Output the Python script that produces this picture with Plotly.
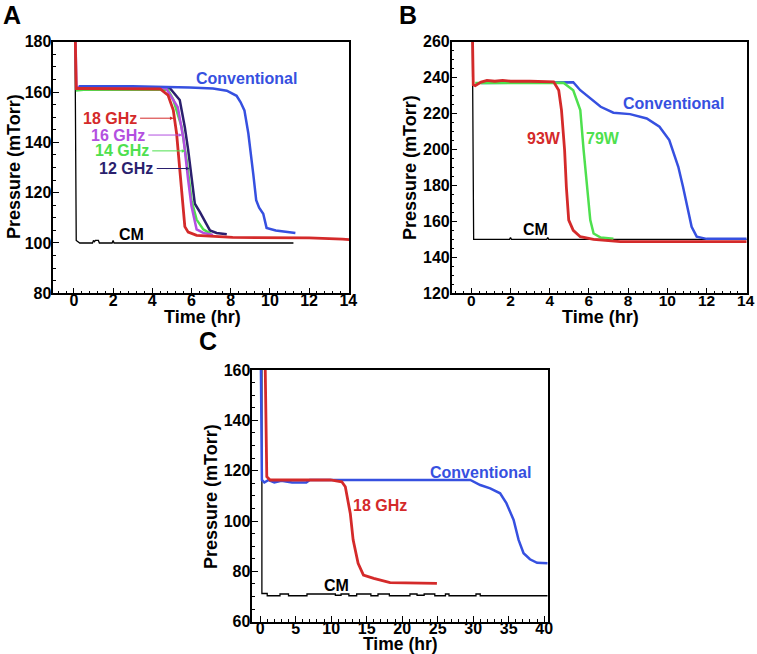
import plotly.graph_objects as go

# ---------------- Panel A data ----------------
A_cm_t = [0.05, 0.12, 0.3, 0.95, 1.0, 1.05, 1.1, 1.25, 1.3, 1.95, 2.0, 2.05, 11.2]
A_cm_p = [190, 101, 100, 100, 101, 100.5, 101, 101, 100, 100, 101, 100, 100]

A_conv_t = [0.25, 3.0, 5.9, 7.1, 7.8, 8.3, 8.5, 8.7, 8.9, 9.05, 9.15, 9.3, 9.45, 9.66, 9.83, 10.3, 10.85, 11.3]
A_conv_p = [162.3, 162.3, 161.8, 161.4, 160.5, 158.5, 156, 152.7, 143.5, 135, 127.5, 117, 114, 111.6, 106, 105, 104.5, 104]

A_18_t = [0.05, 0.12, 0.3, 2.0, 4.4, 4.8, 5.07, 5.24, 5.4, 5.54, 5.66, 5.83, 6.26, 8.1, 12.0, 13.7, 14.05]
A_18_p = [190, 161.4, 161.4, 161.4, 161.2, 158.8, 152.8, 143.5, 130, 117, 106.5, 104.3, 103, 102.2, 102, 101.5, 101.3]

A_16_t = [0.06, 0.13, 0.3, 4.7, 5.3, 5.6, 5.83, 6.0, 6.26, 6.6, 7.1]
A_16_p = [190, 162, 162, 161.5, 154, 141, 125, 114.6, 105.4, 104, 103.2]

A_14_t = [0.1, 0.5, 4.8, 5.07, 5.5, 5.75, 6.0, 6.26, 6.6, 6.9, 7.0]
A_14_p = [160.6, 160.9, 160.9, 157, 146, 133, 117, 109.3, 105.4, 104, 103.5]

A_12_t = [0.3, 4.9, 5.4, 5.66, 5.83, 6.0, 6.17, 6.43, 6.77, 6.94, 7.28, 7.8]
A_12_p = [161.6, 161.5, 156.8, 146, 137, 125, 115.6, 112.3, 107.6, 105, 104, 103.5]

# ---------------- Panel B data ----------------
B_cm_t = [0.05, 0.12, 1.95, 2.0, 2.05, 3.85, 3.9, 3.95, 14.05]
B_cm_p = [270, 150, 150, 151, 150, 150, 151, 150, 150]

B_93_t = [0.05, 0.1, 0.2, 0.5, 0.8, 1.2, 1.6, 2.0, 3.0, 4.2, 4.46, 4.6, 4.76, 4.85, 4.97, 5.2, 5.56, 6.24, 7.6, 14.05]
B_93_p = [270, 236, 235.5, 237.5, 238.5, 238, 238.5, 238, 238, 237.7, 233, 222, 199.7, 179, 160.7, 155, 151.5, 150, 148.7, 148.7]

B_79_t = [0.2, 4.7, 5.2, 5.56, 5.73, 5.9, 6.07, 6.24, 6.6, 7.25]
B_79_p = [237, 237.2, 233, 222, 199.7, 179, 160.7, 153.3, 151, 150.3]

B_conv_t = [0.5, 4.9, 5.2, 5.56, 6.07, 6.6, 7.25, 8.1, 8.95, 9.6, 10.1, 10.56, 10.8, 11.0, 11.24, 11.5, 12.0, 14.05]
B_conv_p = [237, 237.7, 237.5, 233, 228.5, 223.8, 220.5, 219.7, 217.3, 212.7, 205.3, 190.4, 179.3, 168.2, 157, 151.5, 150.3, 150.3]

# ---------------- Panel C data ----------------
C_cm_t = [0.1, 0.25, 1.0, 2.8, 4.0, 6.6, 10.6, 11.4, 12.5, 13.6, 15.6, 16.6, 18.2, 21.1, 22.1, 23.1, 24.6, 26.1, 26.6, 30.4, 31.0, 40.5]
C_cm_p = [165, 71.2, 70.3, 71, 70.3, 71, 70.5, 71, 70.3, 71, 70.3, 71, 70.3, 71, 70.5, 71, 70.3, 71, 70.3, 71, 70.3, 70.3]

C_conv_t = [0.1, 0.25, 0.6, 1.2, 2.0, 3.0, 4.5, 6.5, 7.0, 12, 20, 29.6, 31, 32.4, 33.8, 34.7, 35.7, 36.4, 37.1, 38, 39, 40.5]
C_conv_p = [165, 116.3, 115.3, 116.3, 115.3, 116, 115.3, 115.3, 116.3, 116.3, 116.3, 116.3, 114.3, 113, 111, 107, 100.4, 92.5, 87.2, 84.8, 83.4, 83.2]

C_18_t = [0.7, 0.94, 1.4, 5, 9.9, 11.5, 12.0, 12.7, 13.1, 13.8, 14.55, 16, 18.3, 24.9]
C_18_p = [165, 117.6, 116.3, 116.3, 116.3, 115.6, 113.6, 103, 92.5, 83.2, 78.5, 77.2, 75.5, 75.2]

# ---------------- styles ----------------
RED = "#d42a2a"
BLUE = "#3650e0"
PURPLE = "#b34fe0"
GREEN = "#4ee04e"
NAVY = "#2b1f6e"
BLACK = "#000000"
FONT = "Liberation Sans, Arial, sans-serif"

FW, FH = 757.0, 654.0
def fx(px):
    return px / FW
def fy(py):
    return 1 - py / FH

fig = go.Figure()

def add(t, p, color, width, xa, ya, shape="linear"):
    fig.add_trace(go.Scatter(x=t, y=p, mode="lines", xaxis=xa, yaxis=ya,
                             line=dict(color=color, width=width, shape=shape),
                             showlegend=False, hoverinfo="skip"))

# Panel A
add(A_cm_t, A_cm_p, BLACK, 1.3, "x", "y")
add(A_12_t, A_12_p, NAVY, 2.5, "x", "y")
add(A_14_t, A_14_p, GREEN, 2.5, "x", "y")
add(A_16_t, A_16_p, PURPLE, 2.5, "x", "y")
add(A_conv_t, A_conv_p, BLUE, 2.5, "x", "y")
add(A_18_t, A_18_p, RED, 2.8, "x", "y")
# Panel B
add(B_cm_t, B_cm_p, BLACK, 1.3, "x2", "y2")
add(B_conv_t, B_conv_p, BLUE, 2.5, "x2", "y2")
add(B_79_t, B_79_p, GREEN, 2.5, "x2", "y2")
add(B_93_t, B_93_p, RED, 2.8, "x2", "y2")
# Panel C
add(C_cm_t, C_cm_p, BLACK, 1.3, "x3", "y3", shape="hv")
add(C_conv_t, C_conv_p, BLUE, 2.5, "x3", "y3")
add(C_18_t, C_18_p, RED, 2.8, "x3", "y3")

def axis(domain, rng, dtick, minor, anchor, standoff, size=16):
    return dict(domain=domain, range=rng, anchor=anchor, dtick=dtick, tick0=0,
                showgrid=False, zeroline=False, showline=True, linecolor="black",
                linewidth=1.5, mirror=True, ticks="inside", ticklen=6, tickwidth=1,
                tickcolor="black", ticklabelstandoff=standoff,
                minor=dict(dtick=minor, tick0=0, ticks="inside", ticklen=3, tickcolor="black", tickwidth=1),
                tickfont=dict(family=FONT, size=size, color="black", weight="bold"))

# panel boxes in window pixels
AX = [53.3, 349.3]
BX = [451.7, 746.7]
ABY = [293.3, 41.7]
CX = [252.3, 547.7]
CY = [621.7, 370.0]

fig.update_layout(
    width=int(FW), height=int(FH),
    margin=dict(l=0, r=0, t=0, b=0, autoexpand=False),
    paper_bgcolor="white", plot_bgcolor="white",
    font=dict(family=FONT, color="black", weight="bold"),
    xaxis=axis([fx(AX[0]), fx(AX[1])], [-1.05, 14.05], 2, 0.4, "y", -8),
    yaxis=axis([fy(ABY[0]), fy(ABY[1])], [80, 180], 20, 5, "x", -3),
    xaxis2=axis([fx(BX[0]), fx(BX[1])], [-1.0, 14.05], 2, 0.4, "y2", -8, size=15.5),
    yaxis2=axis([fy(ABY[0]), fy(ABY[1])], [120, 260], 20, 5, "x2", -3),
    xaxis3=axis([fx(CX[0]), fx(CX[1])], [-1.1, 40.5], 5, 1, "y3", -9),
    yaxis3=axis([fy(CY[0]), fy(CY[1])], [60, 160], 20, 5, "x3", -3),
)

ann = []
def ptxt(text, px, py, size, color="black", angle=0):
    ann.append(dict(text=text, x=fx(px), y=fy(py), xref="paper", yref="paper",
                    showarrow=False, textangle=angle, xanchor="center", yanchor="middle",
                    font=dict(family=FONT, size=size, color=color, weight="bold")))

# panel letters
ptxt("A", 12, 15, 25)
ptxt("B", 408, 15, 25)
ptxt("C", 208, 341, 25)
# axis titles
ptxt("Pressure (mTorr)", 14, 167, 18, angle=-90)
ptxt("Pressure (mTorr)", 410, 167, 18, angle=-90)
ptxt("Pressure (mTorr)", 211, 496, 18, angle=-90)
ptxt("Time (hr)", 202, 317, 18)
ptxt("Time (hr)", 600, 317, 18)
ptxt("Time (hr)", 400, 644, 17.5)

def dtxt(text, x, y, xa, ya, color, xanchor="center", size=16):
    ann.append(dict(text=text, x=x, y=y, xref=xa, yref=ya, showarrow=False,
                    xanchor=xanchor, yanchor="middle",
                    font=dict(family=FONT, size=size, color=color, weight="bold")))

def arrow(x0, y0, x1, y1, xa, ya, color):
    ann.append(dict(text="", x=x1, y=y1, ax=x0, ay=y0, xref=xa, yref=ya,
                    axref=xa, ayref=ya, showarrow=True, arrowhead=2, arrowsize=0.7,
                    arrowwidth=1, arrowcolor=color))

# Panel A labels
dtxt("Conventional", 8.8, 165.2, "x", "y", BLUE)
dtxt("CM", 2.95, 103.2, "x", "y", BLACK)
dtxt("18 GHz", 3.3, 149.6, "x", "y", RED, xanchor="right")
dtxt("16 GHz", 3.72, 142.9, "x", "y", PURPLE, xanchor="right")
dtxt("14 GHz", 3.92, 136.6, "x", "y", GREEN, xanchor="right")
dtxt("12 GHz", 4.15, 129.6, "x", "y", NAVY, xanchor="right")
arrow(3.3, 149.6, 5.08, 149.6, "x", "y", RED)
arrow(3.72, 142.9, 5.52, 142.9, "x", "y", PURPLE)
arrow(3.92, 136.6, 5.68, 136.6, "x", "y", GREEN)
arrow(4.15, 129.6, 5.9, 129.6, "x", "y", NAVY)

# Panel B labels
dtxt("Conventional", 10.3, 225.7, "x2", "y2", BLUE)
dtxt("93W", 3.7, 206, "x2", "y2", RED)
dtxt("79W", 6.7, 206, "x2", "y2", GREEN)
dtxt("CM", 3.27, 155.5, "x2", "y2", BLACK)

# Panel C labels
dtxt("Conventional", 31.0, 119.4, "x3", "y3", BLUE)
dtxt("18 GHz", 16.9, 106, "x3", "y3", RED)
dtxt("CM", 10.8, 74.4, "x3", "y3", BLACK)

fig.update_layout(annotations=ann)
fig.write_html("out.html", config={"displayModeBar": False},
               post_script="document.body.style.margin='0px';document.body.style.overflow='hidden';")
